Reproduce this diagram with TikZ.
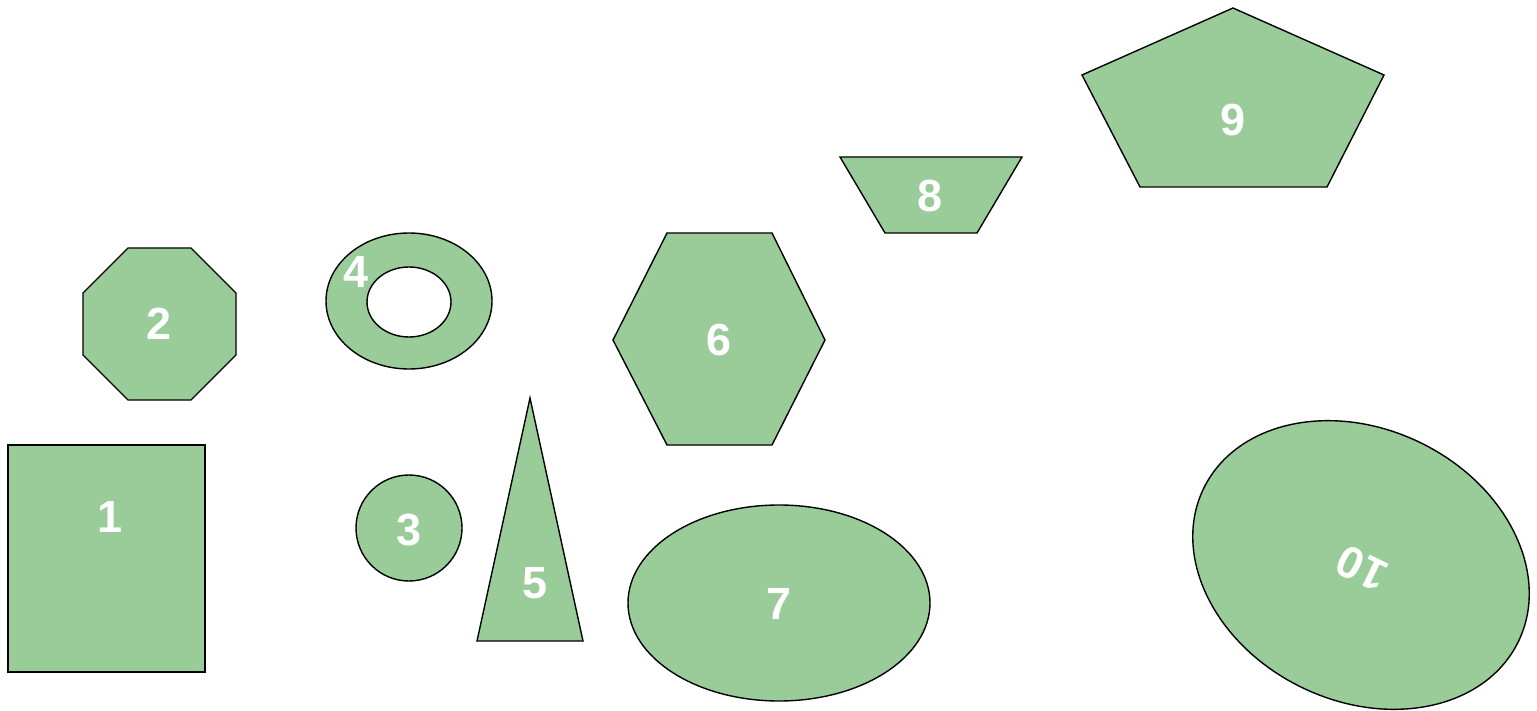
\documentclass[tikz,border=0pt]{standalone}
\usepackage{fontspec}
\setmainfont{Liberation Sans}
\definecolor{shapegreen}{HTML}{99CC99}
\tikzset{
  shp/.style={draw=black, line width=1.4pt, fill=shapegreen, line join=miter},
  lbl/.style={text=white, font=\fontsize{45}{50}\selectfont\bfseries, inner sep=0pt}
}
\begin{document}
\begin{tikzpicture}[x=1pt,y=-1pt]
\useasboundingbox (0,0) rectangle (1537,711);
% 1 rectangle
\draw[shp] (8,445) rectangle (205,672);
\node[lbl] (l1) at (110,517) {1};
% 2 octagon
\draw[shp] (128,248) -- (191,248) -- (236,293) -- (236,355) -- (191,400) -- (128,400) -- (83,355) -- (83,293) -- cycle;
\node[lbl] (l2) at (159,324) {2};
% 3 circle
\draw[shp] (409,528) circle [radius=53];
\node[lbl] (l3) at (409,530) {3};
% 4 ring
\draw[shp, even odd rule] (409,301) ellipse [x radius=83, y radius=68] (409,302) ellipse [x radius=42, y radius=35];
\node[lbl] (l4) at (356,272) {4};
% 5 triangle
\draw[shp] (530,398) -- (583,641) -- (477,641) -- cycle;
\node[lbl] (l5) at (535,583) {5};
% 6 hexagon
\draw[shp] (667,233) -- (772,233) -- (825,340) -- (772,445) -- (667,445) -- (613,340) -- cycle;
\node[lbl] (l6) at (719,340) {6};
% 7 ellipse
\draw[shp] (779,603) ellipse [x radius=151, y radius=98];
\node[lbl] (l7) at (779,604) {7};
% 8 trapezoid
\draw[shp] (840,157) -- (1022,157) -- (977,233) -- (885,233) -- cycle;
\node[lbl] (l8) at (930,196) {8};
% 9 pentagon
\draw[shp] (1233,8) -- (1384,75) -- (1327,187) -- (1140,187) -- (1082,75) -- cycle;
\node[lbl] (l9) at (1233,120) {9};
% 10 rotated ellipse
\draw[shp, rotate around={-26:(1361,565)}] (1361,565) ellipse [x radius=175, y radius=136];
\node[lbl, rotate=154] (l10) at (1362,568) {10};
\end{tikzpicture}
\end{document}
